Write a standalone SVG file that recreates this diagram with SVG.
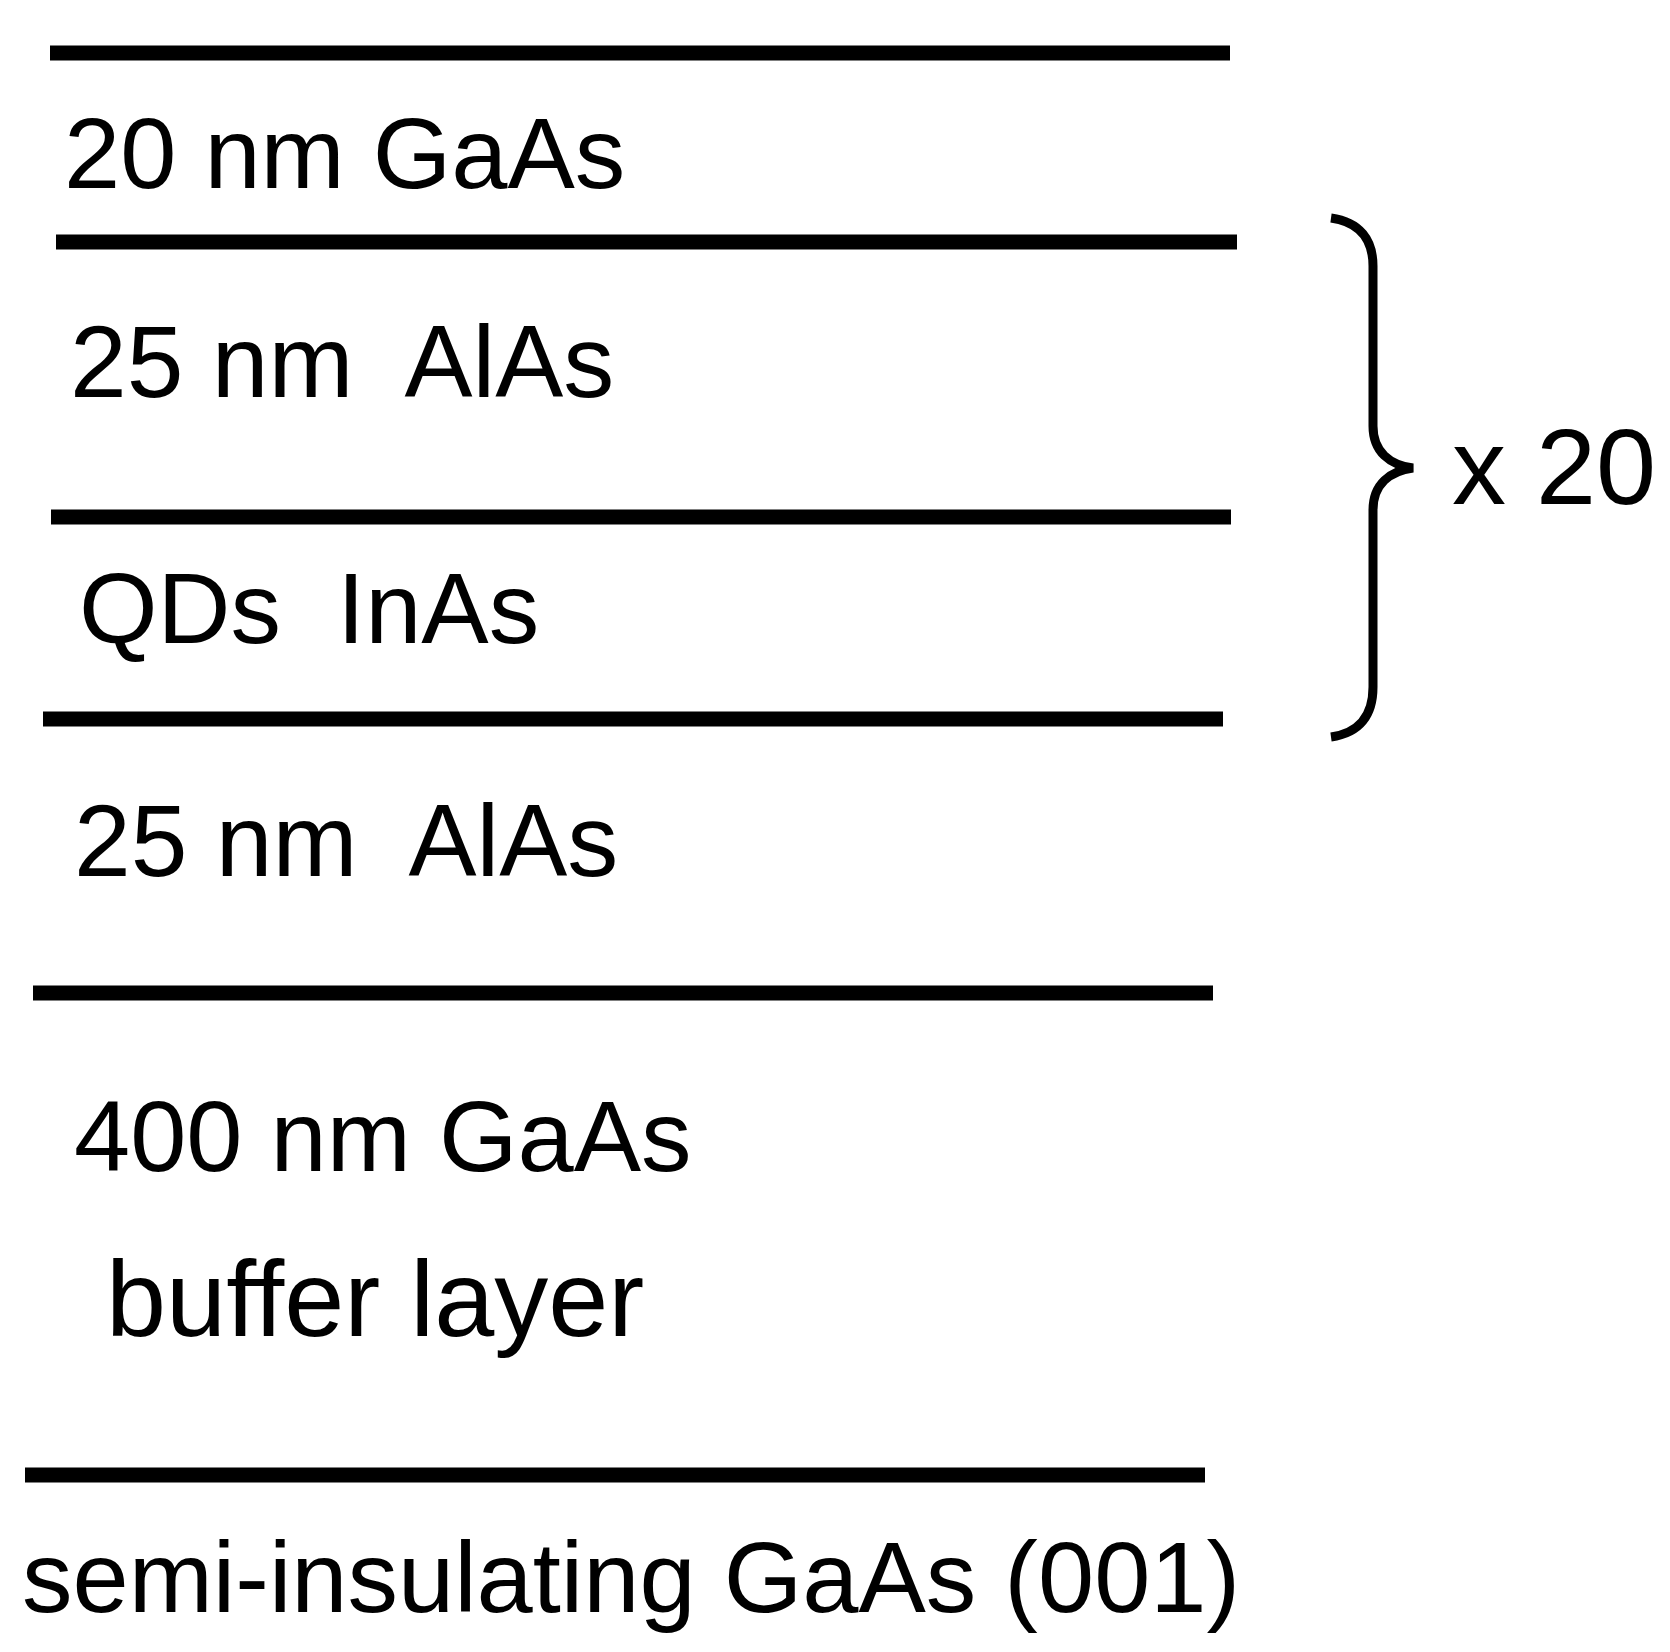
<svg xmlns="http://www.w3.org/2000/svg" width="1670" height="1652" viewBox="0 0 1670 1652">
<style>
.layer{stroke:#000;stroke-width:15;stroke-linecap:butt}
.t{font-family:"Liberation Sans",Arial,sans-serif;fill:#000;font-size:101px}
.brace{fill:none;stroke:#000;stroke-width:9}
</style>
<rect width="1670" height="1652" fill="#fff"/>
<g id="interfaces">
<line class="layer" x1="50" y1="53" x2="1230" y2="53"/>
<line class="layer" x1="56" y1="242" x2="1237" y2="242"/>
<line class="layer" x1="51" y1="517" x2="1231" y2="517"/>
<line class="layer" x1="43" y1="719" x2="1223" y2="719"/>
<line class="layer" x1="33" y1="993" x2="1213" y2="993"/>
<line class="layer" x1="25" y1="1475" x2="1205" y2="1475"/>
</g>
<g id="cap"><text class="t" x="64" y="188">20 nm GaAs</text></g>
<g id="alas1"><text class="t" x="70" y="397" xml:space="preserve" style="font-size:102px">25 nm  AlAs</text></g>
<g id="qds"><text class="t" x="79" y="643" xml:space="preserve">QDs  InAs</text></g>
<g id="alas2"><text class="t" x="74" y="876" xml:space="preserve" style="font-size:102px">25 nm  AlAs</text></g>
<g id="buffer">
<text class="t" x="74" y="1171">400 nm GaAs</text>
<text class="t" x="106" y="1336" style="font-size:108px">buffer layer</text>
</g>
<g id="substrate"><text class="t" x="22" y="1612">semi-insulating GaAs (001)</text></g>
<g id="repeat">
<path class="brace" d="M1331,218 C1360,222 1373,240 1373,266 L1373,426 C1373,452 1390,465 1413,468 C1390,471 1373,484 1373,510 L1373,687 C1373,715 1360,733 1331,737"/>
<text class="t" x="1452" y="504" style="font-size:108px">x 20</text>
</g>
</svg>
